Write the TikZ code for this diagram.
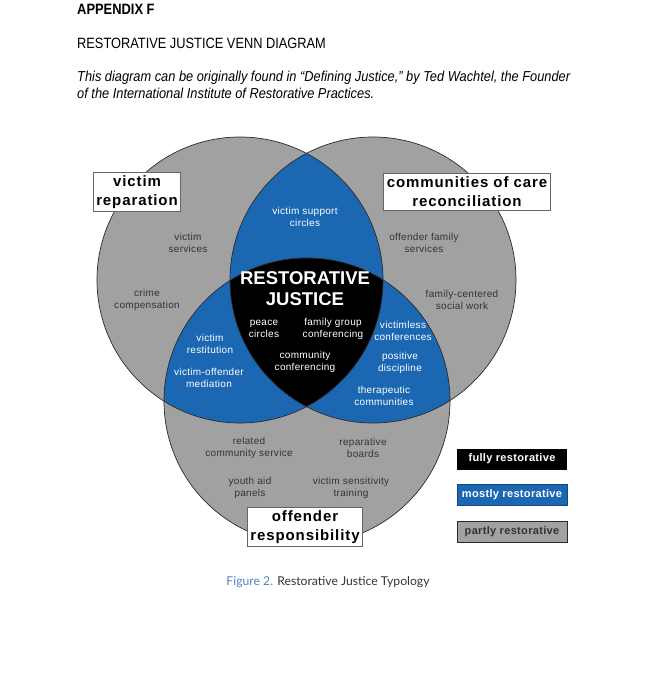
\documentclass[tikz,border=0pt]{standalone}
\usepackage{fontspec}
\setmainfont{Liberation Sans}
\newfontfamily\narrowfont[FakeStretch=0.86]{Liberation Sans}
\newfontfamily\widenarrowfont[FakeStretch=0.89]{Liberation Sans}
\newfontfamily\trackfont[LetterSpace=6]{Liberation Sans}
\newfontfamily\lighttrackfont[LetterSpace=3]{Liberation Sans}
\newfontfamily\capfont{Lato}
\usetikzlibrary{positioning}
\definecolor{vennGray}{HTML}{A1A1A1}
\definecolor{vennBlue}{HTML}{1B67B2}
\definecolor{inkGray}{HTML}{333333}
\definecolor{edgeGray}{HTML}{2B2B2B}
\definecolor{capBlue}{HTML}{4A86C0}
\tikzset{
    ringline/.style={draw=edgeGray,line width=0.7pt},
    graytext/.style={align=center,text=inkGray,inner sep=1pt,
        font=\lighttrackfont\fontsize{10}{12}\selectfont},
    whitetext/.style={graytext,text=white},
    namebox/.style={draw=black!60,fill=white,line width=1pt,align=center,
        inner sep=3pt,font=\trackfont\bfseries\fontsize{15}{19}\selectfont},
    keybox/.style={minimum width=110pt,minimum height=21pt,inner sep=0pt,
        font=\lighttrackfont\bfseries\fontsize{11}{13}\selectfont},
    headtext/.style={anchor=base west,inner sep=0pt,align=left}
}

\begin{document}
\begin{tikzpicture}[x=1pt,y=-1pt]
    \useasboundingbox (0,0) rectangle (655,675);
    % page heading
    \node[headtext,font=\narrowfont\bfseries\fontsize{15}{18}\selectfont] (app) at (77,14) {APPENDIX F};
    \node[headtext,font=\narrowfont\fontsize{14.9}{18}\selectfont] (ttl) at (77,48) {RESTORATIVE JUSTICE VENN DIAGRAM};
    \node[headtext,font=\widenarrowfont\itshape\fontsize{14.4}{17}\selectfont] (src) at (77,98)
        {This diagram can be originally found in “Defining Justice,” by Ted Wachtel, the Founder\\
         of the International Institute of Restorative Practices.};

    % the three circles
    \coordinate (cl) at (240,280);
    \coordinate (cr) at (373,280);
    \coordinate (cb) at (307,401);
    \fill[vennGray] (cl) circle[radius=143pt];
    \fill[vennGray] (cr) circle[radius=143pt];
    \fill[vennGray] (cb) circle[radius=143pt];
    \begin{scope}
        \clip (cl) circle[radius=143pt];
        \fill[vennBlue] (cr) circle[radius=143pt];
        \fill[vennBlue] (cb) circle[radius=143pt];
    \end{scope}
    \begin{scope}
        \clip (cr) circle[radius=143pt];
        \fill[vennBlue] (cb) circle[radius=143pt];
    \end{scope}
    \begin{scope}
        \clip (cl) circle[radius=143pt];
        \clip (cr) circle[radius=143pt];
        \fill[black] (cb) circle[radius=143pt];
    \end{scope}
    \draw[ringline] (cl) circle[radius=143pt];
    \draw[ringline] (cr) circle[radius=143pt];
    \draw[ringline] (cb) circle[radius=143pt];

    % partly restorative
    \node[graytext] (vserv) at (188,243) {victim\\services};
    \node[graytext] (ccomp) at (147,300) {crime\\compensation};
    \node[graytext] (ofam) at (424,243) {offender family\\services};
    \node[graytext] (fcsw) at (462,300) {family-centered\\social work};
    \node[graytext] (rcs) at (249,448) {related\\community service};
    \node[graytext] (rboard) at (363,448) {reparative\\boards};
    \node[graytext] (yap) at (250,488) {youth aid\\panels};
    \node[graytext] (vst) at (351,488) {victim sensitivity\\training};

    % mostly restorative
    \node[whitetext] (vsc) at (305,217) {victim support\\circles};
    \node[whitetext] (vrest) at (210,344) {victim\\restitution};
    \node[whitetext] (vom) at (209,378) {victim-offender\\mediation};
    \node[whitetext] (vconf) at (403,331) {victimless\\conferences};
    \node[whitetext] (posd) at (400,363) {positive\\discipline};
    \node[whitetext] (thc) at (384,396) {therapeutic\\communities};

    % fully restorative
    \node[whitetext,font=\bfseries\fontsize{18.5}{21}\selectfont] (rj) at (305,289) {RESTORATIVE\\JUSTICE};
    \node[whitetext] (pcirc) at (264,329) {peace\\circles};
    \node[whitetext] (fgc) at (333,329) {family group\\conferencing};
    \node[whitetext] (cconf) at (305,362) {community\\conferencing};

    % circle names
    \node[namebox] (vrep) at (137,192) {victim\\reparation};
    \node[namebox] (ccare) at (467,192) {communities of care\\reconciliation};
    \node[namebox] (oresp) at (305,527) {offender\\responsibility};

    % key
    \node[keybox,fill=black,text=white] (kfull) at (512,459) {fully restorative};
    \node[keybox,fill=vennBlue,draw=vennBlue!70!black,text=white] (kmost) at (512,495) {mostly restorative};
    \node[keybox,fill=vennGray,draw=edgeGray,text=inkGray] (kpart) at (512,532) {partly restorative};

    % caption
    \node[inner sep=0pt,font=\capfont\fontsize{12.2}{14}\selectfont] (cap) at (328,582)
        {\textcolor{capBlue}{Figure 2.} \textcolor{inkGray}{Restorative Justice Typology}};
\end{tikzpicture}
\end{document}
